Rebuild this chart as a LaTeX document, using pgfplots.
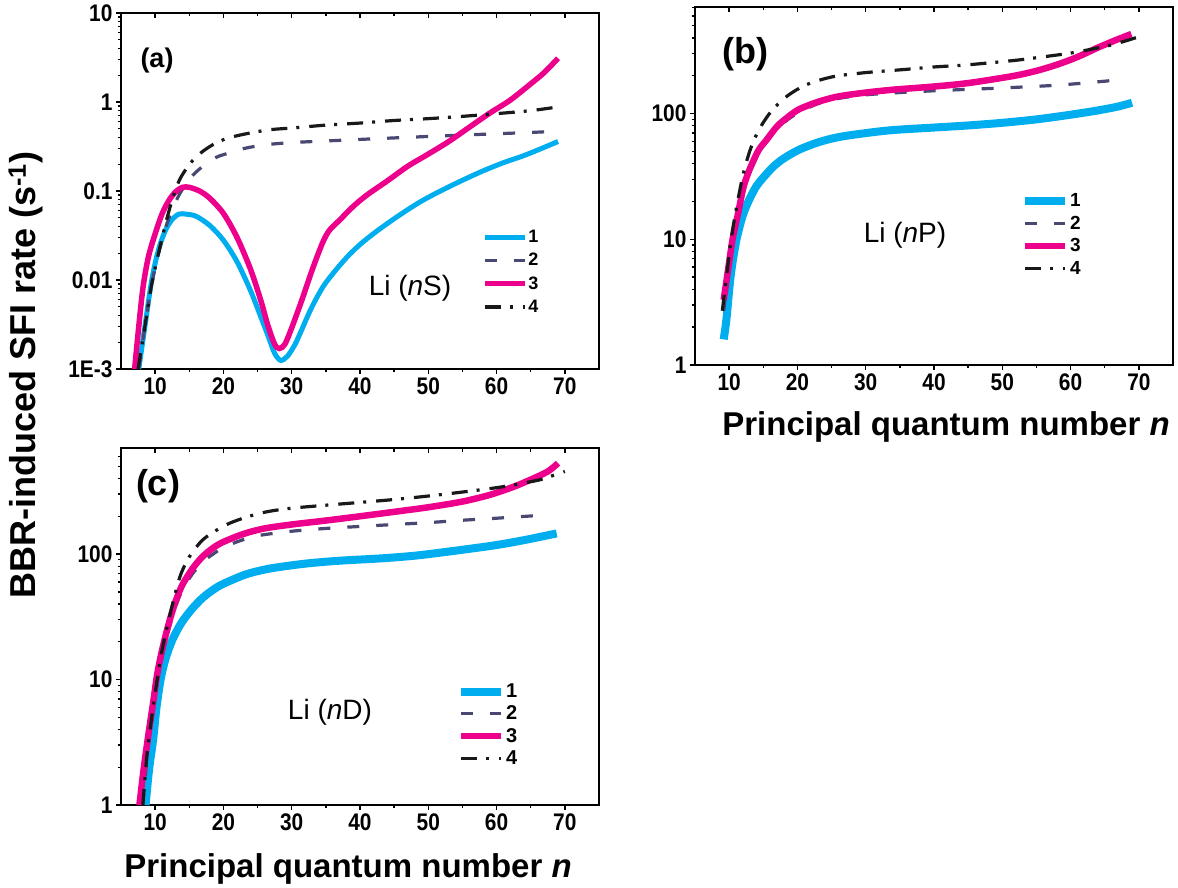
\documentclass[border=0pt]{standalone}
\usepackage{fontspec}
\setmainfont{Liberation Sans}
\newfontfamily\tickfont{Liberation Sans}[FakeStretch=0.87]
\usepackage{pgfplots}
\pgfplotsset{compat=1.18}

\definecolor{cCyan}{RGB}{0,174,239}
\definecolor{cMag}{RGB}{236,0,140}
\definecolor{cNavy}{RGB}{72,72,115}
\definecolor{cBlk}{RGB}{25,25,25}

\pgfplotsset{
  legend image code/.code={\draw[#1] (0pt,0pt) -- (40pt,0pt);},
  panel/.style={
    scale only axis, width=478pt,
    xmin=5, xmax=75,
    xtick={10,20,30,40,50,60,70}, xticklabels={10,20,30,40,50,60,70},
    minor xtick={15,25,35,45,55,65},
    tick align=outside, xtick pos=left, ytick pos=left,
    major tick length=5pt, minor tick length=3.5pt,
    every tick/.style={black, line width=1.4pt},
    axis line style={line width=1.8pt},
    tick label style={font=\tickfont\bfseries\fontsize{24}{24}\selectfont, text=black},
    legend cell align=left,
    legend style={draw=none, fill=none, inner sep=0pt, outer sep=0pt,
      nodes={inner sep=1pt}, /tikz/every even column/.append style={column sep=5pt}},
  },
  topax/.style={
    scale only axis, width=478pt,
    xmin=5, xmax=75, ymin=0, ymax=1,
    axis x line*=top, axis y line=none,
    xtick={10,20,30,40,50,60,70}, xticklabels={},
    minor xtick={15,25,35,45,55,65},
    tick align=inside,
    major tick length=5pt, minor tick length=3.5pt,
    every tick/.style={black, line width=1.4pt},
    axis line style={line width=1.8pt},
  },
  c1/.style={cCyan, line width=#1, smooth},
  c2/.style={cNavy, line width=3.2pt, dash pattern=on 12pt off 17pt, smooth},
  c3/.style={cMag, line width=#1, smooth},
  c4/.style={cBlk, line width=3.2pt, dash pattern=on 16pt off 9pt on 3pt off 10pt, smooth},
}

\begin{document}
\begin{tikzpicture}
\useasboundingbox (0pt,0pt) rectangle (1178pt,-888pt);

% ---------------- panel (a)
\begin{axis}[panel, ymode=log, at={(121pt,-369pt)}, anchor=south west, height=356pt,
  ymin=0.001, ymax=10,
  ytick={0.001,0.01,0.1,1,10}, yticklabels={1E-3,0.01,0.1,1,10},
  minor ytick={0.002,0.003,0.004,0.005,0.006,0.007,0.008,0.009,
    0.02,0.03,0.04,0.05,0.06,0.07,0.08,0.09,
    0.2,0.3,0.4,0.5,0.6,0.7,0.8,0.9,2,3,4,5,6,7,8,9},
  legend style={at={(axis description cs:0.755,0.393)}, anchor=north west, row sep=7.3pt,
    font=\bfseries\fontsize{18}{18}\selectfont},
]
\addplot[c1=5pt] coordinates {
(7.6,0.001) (8.5,0.003) (9.5,0.01) (10.5,0.022) (11.5,0.036) (12.5,0.048)
(13.5,0.055) (14.5,0.055) (16,0.052) (18,0.041) (20,0.028) (22,0.016)
(24,0.0075) (25.5,0.0038) (26.5,0.0024) (27.5,0.0015) (28.4,0.00125)
(29.4,0.0014) (30.5,0.0019) (31.5,0.0028) (32.5,0.0042) (33.5,0.006)
(34.5,0.0082) (35.5,0.0105) (37,0.0145) (38.5,0.0195) (40.5,0.027)
(43,0.038) (46,0.055) (49,0.077) (52,0.102) (55,0.132) (58,0.168)
(61,0.208) (64,0.25) (67,0.31) (69,0.36)};
\addlegendentry{1}
\addplot[c2] coordinates {
(7.6,0.001) (8.5,0.003) (9.5,0.009) (10.5,0.02) (11.5,0.038) (12.5,0.062)
(13.5,0.09) (14.5,0.12) (15.5,0.15) (17,0.19) (19,0.24) (21,0.27) (23,0.3)
(26,0.33) (30,0.35) (35,0.365) (40,0.38) (45,0.395) (50,0.41) (55,0.425)
(60,0.44) (65,0.455) (69,0.47)};
\addlegendentry{2}
\addplot[c3=5.5pt] coordinates {
(7.0,0.001) (7.5,0.0025) (8.2,0.008) (9,0.018) (10,0.033) (11,0.055)
(12,0.078) (13,0.098) (14,0.11) (15,0.11) (16.5,0.1) (18,0.083) (20,0.056)
(22,0.03) (24,0.013) (25.5,0.0058) (26.5,0.0031) (27.5,0.0019) (28.2,0.0017)
(29,0.0019) (30,0.0029) (31.5,0.006) (33,0.013) (34.5,0.026) (35.5,0.036)
(37,0.047) (39,0.067) (41,0.09) (44,0.13) (47,0.19) (50,0.26) (53,0.36)
(56,0.52) (59,0.75) (62,1.05) (65,1.6) (67,2.15) (69,3.1)};
\addlegendentry{3}
\addplot[c4] coordinates {
(7.5,0.001) (8.5,0.003) (9.5,0.009) (10.5,0.02) (11.5,0.042) (12.5,0.08)
(13.5,0.13) (14.5,0.175) (15.5,0.22) (17,0.28) (19,0.35) (21,0.40)
(24,0.45) (27,0.49) (30,0.51) (35,0.55) (40,0.58) (45,0.62) (50,0.65)
(55,0.69) (60,0.74) (65,0.8) (69,0.88)};
\addlegendentry{4}
\end{axis}
\begin{axis}[topax, at={(121pt,-369pt)}, anchor=south west, height=356pt]
\end{axis}

% ---------------- panel (b)
\begin{axis}[panel, ymode=log, at={(695pt,-365pt)}, anchor=south west, height=358pt,
  ymin=1, ymax=705,
  ytick={1,10,100}, yticklabels={1,10,100},
  minor ytick={2,3,4,5,6,7,8,9,20,30,40,50,60,70,80,90,200,300,400,500,600,700},
  legend style={at={(axis description cs:0.682,0.482)}, anchor=north west, row sep=5.8pt,
    font=\bfseries\fontsize{19}{19}\selectfont},
]
\addplot[c1=8pt] coordinates {
(9.2,1.6) (9.6,2.3) (10.2,5) (11,9.5) (12,15.5) (13,21) (14,26.5) (15,31)
(16.5,38) (18,44) (20.2,51.5) (23,59) (26,65) (30,70) (34,74) (40,77.5)
(45,80.5) (50,84.5) (55,90) (60,98) (64,106) (67,114) (69,122)};
\addlegendentry{1}
\addplot[c2] coordinates {
(9.2,2.7) (9.8,5) (10.5,9.5) (11.3,15.5) (12.1,25) (13,34) (14.3,48)
(15.5,60) (17,75) (18.5,89) (20.2,102) (23,120) (26,132) (30,141) (34,146)
(40,152) (45,156) (50,160) (57,167) (62,175) (67.7,187)};
\addlegendentry{2}
\addplot[c3=6.5pt] coordinates {
(9.2,3.3) (9.8,5.5) (10.5,10) (11.3,16) (12.1,26) (13,36) (14.3,51)
(15.5,62) (17,79) (18.5,93) (20.2,108) (23,124) (26,137) (30,147) (34,155)
(38,161) (42,168) (45,175) (48,185) (52,201) (55,219) (58,245)
(61,282) (64,335) (66.5,382) (68.9,430)};
\addlegendentry{3}
\addplot[c4] coordinates {
(9.0,2.7) (9.6,5) (10.3,10) (11,17) (12,32) (13,50) (14,68) (15,85)
(16.4,108) (18.5,138) (20.8,165) (23,183) (25.7,199) (30,212) (35.5,224)
(40,235) (44.3,243) (48,253) (52.1,266) (56,283) (60,303) (63,325)
(66,352) (68,378) (69.9,407)};
\addlegendentry{4}
\end{axis}
\begin{axis}[topax, at={(695pt,-365pt)}, anchor=south west, height=358pt]
\end{axis}

% ---------------- panel (c)
\begin{axis}[panel, ymode=log, at={(121pt,-805pt)}, anchor=south west, height=357pt,
  ymin=1, ymax=700,
  ytick={1,10,100}, yticklabels={1,10,100},
  minor ytick={2,3,4,5,6,7,8,9,20,30,40,50,60,70,80,90,200,300,400,500,600},
  legend style={at={(axis description cs:0.703,0.342)}, anchor=north west, row sep=4.8pt,
    font=\bfseries\fontsize{20}{20}\selectfont},
]
\addplot[c1=8pt] coordinates {
(8.6,1) (9.1,1.9) (9.7,3.3) (10.2,6) (10.8,10) (11.5,14.5) (12.5,20.6)
(13.8,28) (15.3,36) (17,45) (19.2,55) (21.5,63) (23.7,70) (27,77) (32.1,84)
(37,88.5) (43.3,92.5) (48,97) (52,103) (56,110) (60,118) (64,129) (68.8,146)};
\addlegendentry{1}
\addplot[c2] coordinates {
(8.2,1) (9,3) (10,8) (11,15) (12,25) (13,38) (14,52) (15.5,70) (17,87)
(18.5,100) (20,113) (22.5,128) (25,140) (30,152) (35,160) (40,166) (45,172)
(50,178) (55,186) (60,193) (67.3,205)};
\addlegendentry{2}
\addplot[c3=6.5pt] coordinates {
(7.7,1) (8.3,1.9) (9,3.6) (9.7,6.5) (10.3,11) (11,17) (12,28) (13,42)
(14,57) (15.5,77) (17,96) (18.5,112) (20,125) (23,145) (26,160) (30,172)
(35,185) (40,200) (45,217) (50,236) (55,262) (59,296) (62.4,342)
(65,392) (67.5,455) (69,530)};
\addlegendentry{3}
\addplot[c4] coordinates {
(8.2,1) (8.8,2.5) (9.5,5) (10.3,10) (11,17) (12,30) (13,50) (13.8,70)
(15,95) (16.5,122) (17.5,137) (19,155) (20.9,176) (23.5,198) (26.5,218)
(30,232) (35,245) (40,258) (45,272) (50,290) (55,312) (60,338) (63,360)
(66.3,390) (68,418) (70,455)};
\addlegendentry{4}
\end{axis}
\begin{axis}[topax, at={(121pt,-805pt)}, anchor=south west, height=357pt]
\end{axis}

% ---------------- texts
\node[font=\bfseries\fontsize{27}{27}\selectfont] at (157pt,-61pt) {(a)};
\node[font=\bfseries\fontsize{36}{36}\selectfont] at (745pt,-54pt) {(b)};
\node[font=\bfseries\fontsize{36}{36}\selectfont] at (158pt,-486pt) {(c)};
\node[font=\fontsize{28}{28}\selectfont] at (410pt,-288pt) {Li (\textit{n}S)};
\node[font=\fontsize{28}{28}\selectfont] at (905pt,-235pt) {Li (\textit{n}P)};
\node[font=\fontsize{28}{28}\selectfont] at (330pt,-712pt) {Li (\textit{n}D)};
\node[font=\bfseries\fontsize{33}{33}\selectfont, anchor=base] at (946pt,-435pt)
  {Principal quantum number \textit{n}};
\node[font=\bfseries\fontsize{33}{33}\selectfont, anchor=base] at (348pt,-877pt)
  {Principal quantum number \textit{n}};
\node[font=\bfseries\fontsize{36}{36}\selectfont, rotate=90, anchor=base] at (35pt,-375pt)
  {BBR-induced SFI rate (s\textsuperscript{-1})};
\end{tikzpicture}
\end{document}
